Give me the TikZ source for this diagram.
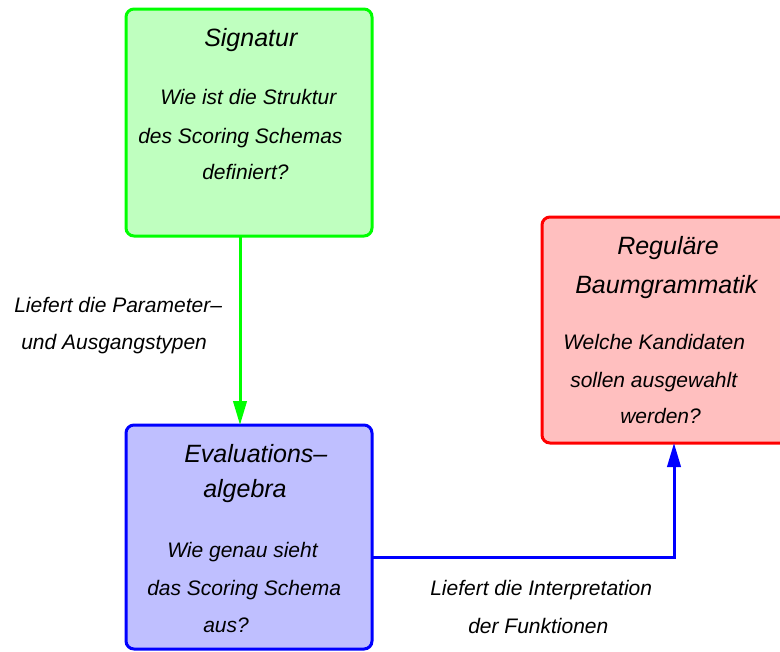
\documentclass[tikz,border=0pt]{standalone}
\usepackage{fontspec}
\setmainfont{Liberation Sans}
\usetikzlibrary{arrows.meta}
\definecolor{gfill}{RGB}{191,255,191}
\definecolor{gline}{RGB}{0,255,0}
\definecolor{rfill}{RGB}{255,191,191}
\definecolor{rline}{RGB}{255,0,0}
\definecolor{bfill}{RGB}{191,191,255}
\definecolor{bline}{RGB}{0,0,255}
\tikzset{
  box/.style={draw, line width=2.25pt, rounded corners=6pt, inner sep=0pt, outer sep=0pt},
  ttl/.style={anchor=base west, inner sep=0pt, font=\fontsize{18.75pt}{22pt}\selectfont\itshape},
  txt/.style={anchor=base west, inner sep=0pt, font=\fontsize{15.75pt}{19pt}\selectfont\itshape},
  conn/.style={line width=2.25pt, -{Triangle[length=18pt,width=10pt]}}
}
\begin{document}
\begin{tikzpicture}[x=0.75pt,y=-0.75pt]
\useasboundingbox (0,0) rectangle (780,651);
% boxes
\node[box, fill=gfill, draw=gline, minimum width=184.5pt, minimum height=170.25pt] (green) at (249,122.5) {};
\node[box, fill=rfill, draw=rline, minimum width=193.5pt, minimum height=169.5pt] (red) at (671,330) {};
\node[box, fill=bfill, draw=bline, minimum width=184.5pt, minimum height=168pt] (blue) at (249,537) {};
% green texts
\node[ttl] (g1) at (204,46) {Signatur};
\node[txt] (g2) at (160,104) {Wie ist die Struktur};
\node[txt] (g3) at (138,143) {des Scoring Schemas};
\node[txt] (g4) at (202,179) {definiert?};
% red texts
\node[ttl] (r1) at (617,254) {Reguläre};
\node[ttl] (r2) at (575,293) {Baumgrammatik};
\node[txt] (r3) at (563,349) {Welche Kandidaten};
\node[txt] (r4) at (570,387) {sollen ausgewahlt};
\node[txt] (r5) at (620,423) {werden?};
% blue texts
\node[ttl] (b1) at (184,462) {Evaluations–};
\node[ttl] (b2) at (203,497) {algebra};
\node[txt] (b3) at (167,557) {Wie genau sieht};
\node[txt] (b4) at (147,595) {das Scoring Schema};
\node[txt] (b5) at (203,632) {aus?};
% labels
\node[txt] (l1) at (14,312) {Liefert die Parameter–};
\node[txt] (l2) at (21,349) {und Ausgangstypen};
\node[txt] (m1) at (430,595) {Liefert die Interpretation};
\node[txt] (m2) at (468,633) {der Funktionen};
% connectors
\coordinate (ga) at (240,0);
\coordinate (ra) at (674,557);
\draw[conn, draw=gline] (green.south -| ga) -- (blue.north -| ga);
\draw[conn, draw=bline] (blue.east |- ra) -| (red.south -| ra);
\end{tikzpicture}
\end{document}
